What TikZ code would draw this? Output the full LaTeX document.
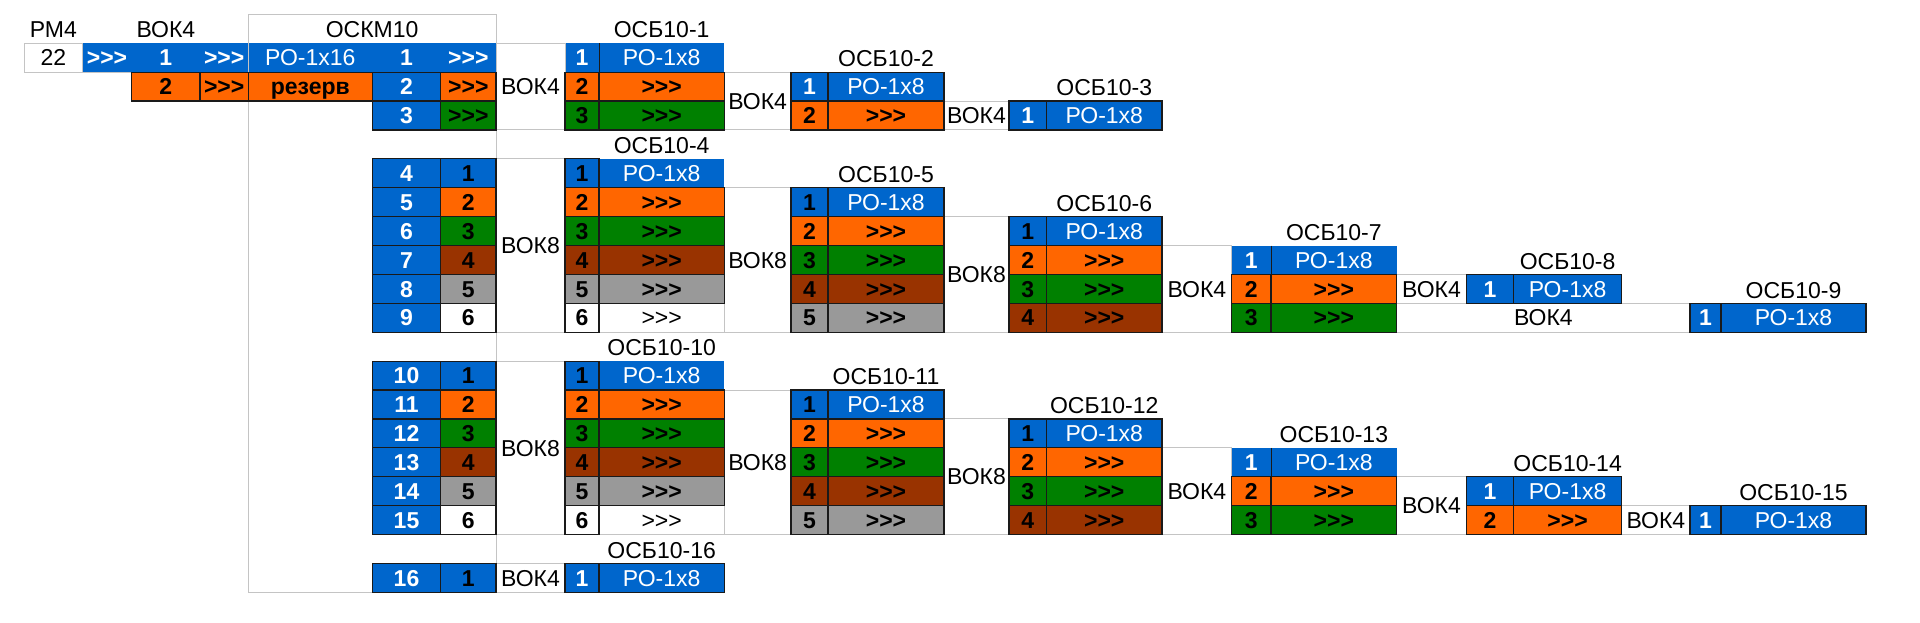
\documentclass[tikz,border=0pt]{standalone}
\usepackage{fontspec}
\setmainfont{Liberation Sans}
\definecolor{blu}{HTML}{0066CC}
\definecolor{org}{HTML}{FF6600}
\definecolor{grn}{HTML}{008000}
\definecolor{brn}{HTML}{993300}
\definecolor{gry}{HTML}{999999}
\definecolor{gridc}{HTML}{C4C4C4}
\definecolor{dk}{HTML}{1A1A1A}
\pgfdeclarelayer{bg}\pgfdeclarelayer{gl}
\pgfsetlayers{bg,gl,main}
\def\xs{{24.3,82.3,131.7,200,248.3,372.3,440.7,496,565,599,724.3,791,828,944,1009,1046.5,1162,1231.7,1271,1396.7,1466.3,1513.5,1621.7,1690,1721,1866}}
\newcounter{nn}
\newcommand\gts{>\kern0pt>\kern0pt>}
\tikzset{
  t/.style={font=\fontsize{11.5}{13}\selectfont, text height=8.2pt, text depth=0pt, inner sep=0pt},
  kr/.style={t},
  wr/.style={t, text=white},
  kb/.style={t, font=\fontsize{11.5}{13}\selectfont\bfseries},
  wb/.style={t, text=white, font=\fontsize{11.5}{13}\selectfont\bfseries},
  dkb/.style={draw=dk, line width=0.6pt},
  grb/.style={draw=gridc, line width=0.5pt},
}
% cell: l, r, rowtop, rowbot, fill, border, textstyle, text
\newcommand\cel[8]{%
  \pgfmathsetmacro\xl{\xs[#1]}%
  \pgfmathsetmacro\xr{\xs[#2]}%
  \pgfmathsetmacro\yt{14.3+28.9*(#3)}%
  \pgfmathsetmacro\yb{14.3+28.9*(#4+1)}%
  \begin{pgfonlayer}{bg}\fill[#5] (\xl,\yt) rectangle (\xr,\yb);\end{pgfonlayer}%
  \draw[#6] (\xl,\yt) rectangle (\xr,\yb);%
  \stepcounter{nn}%
  \node[#7] (n\arabic{nn}) at ({(\xl+\xr)/2},{(\yt+\yb)/2}) {#8};%
}
% grey merged cell: l, r, rowtop, rowbot, text
\newcommand\vok[5]{%
  \pgfmathsetmacro\xl{\xs[#1]}%
  \pgfmathsetmacro\xr{\xs[#2]}%
  \pgfmathsetmacro\yt{14.3+28.9*(#3)}%
  \pgfmathsetmacro\yb{14.3+28.9*(#4+1)}%
  \begin{pgfonlayer}{gl}\draw[grb] (\xl,\yt) rectangle (\xr,\yb);\end{pgfonlayer}%
  \stepcounter{nn}%
  \node[kr] (n\arabic{nn}) at ({(\xl+\xr)/2},{(\yt+\yb)/2}) {#5};%
}
% title: l, r, row, text
\newcommand\ttl[4]{%
  \pgfmathsetmacro\xl{\xs[#1]}%
  \pgfmathsetmacro\xr{\xs[#2]}%
  \pgfmathsetmacro\yt{14.3+28.9*(#3)+15.45}%
  \stepcounter{nn}%
  \node[kr] (n\arabic{nn}) at ({(\xl+\xr)/2},\yt) {#4};%
}
% thin separator: x index, row
\newcommand\sepl[2]{%
  \pgfmathsetmacro\xl{\xs[#1]}%
  \pgfmathsetmacro\yt{14.3+28.9*(#2)}%
  \pgfmathsetmacro\yb{14.3+28.9*(#2+1)}%
  \draw[dk, line width=0.4pt] (\xl,\yt) -- (\xl,\yb);%
}
% section: base row, first number
\newcommand\osect[2]{%
  \ttl{9}{10}{#1}{ОСБ10-#2}
  \cel{5}{6}{#1+1}{#1+1}{blu}{dkb}{wb}{#2}
  \cel{6}{7}{#1+1}{#1+1}{blu}{dkb}{kb}{1}
  \cel{5}{6}{#1+2}{#1+2}{blu}{dkb}{wb}{\the\numexpr#2+1\relax}
  \cel{6}{7}{#1+2}{#1+2}{org}{dkb}{kb}{2}
  \cel{5}{6}{#1+3}{#1+3}{blu}{dkb}{wb}{\the\numexpr#2+2\relax}
  \cel{6}{7}{#1+3}{#1+3}{grn}{dkb}{kb}{3}
  \cel{5}{6}{#1+4}{#1+4}{blu}{dkb}{wb}{\the\numexpr#2+3\relax}
  \cel{6}{7}{#1+4}{#1+4}{brn}{dkb}{kb}{4}
  \cel{5}{6}{#1+5}{#1+5}{blu}{dkb}{wb}{\the\numexpr#2+4\relax}
  \cel{6}{7}{#1+5}{#1+5}{gry}{dkb}{kb}{5}
  \cel{5}{6}{#1+6}{#1+6}{blu}{dkb}{wb}{\the\numexpr#2+5\relax}
  \cel{6}{7}{#1+6}{#1+6}{white}{dkb}{kb}{6}
  \vok{7}{8}{#1+1}{#1+6}{ВОК8}
  \cel{9}{10}{#1+1}{#1+1}{blu}{draw=none}{wr}{РО-1x8}
  \cel{8}{9}{#1+1}{#1+1}{blu}{dkb}{kb}{1}
  \cel{8}{9}{#1+2}{#1+2}{org}{dkb}{kb}{2}
  \cel{9}{10}{#1+2}{#1+2}{org}{dkb}{kb}{\gts}
  \cel{8}{9}{#1+3}{#1+3}{grn}{dkb}{kb}{3}
  \cel{9}{10}{#1+3}{#1+3}{grn}{dkb}{kb}{\gts}
  \cel{8}{9}{#1+4}{#1+4}{brn}{dkb}{kb}{4}
  \cel{9}{10}{#1+4}{#1+4}{brn}{dkb}{kb}{\gts}
  \cel{8}{9}{#1+5}{#1+5}{gry}{dkb}{kb}{5}
  \cel{9}{10}{#1+5}{#1+5}{gry}{dkb}{kb}{\gts}
  \cel{8}{9}{#1+6}{#1+6}{white}{dkb}{kb}{6}
  \vok{9}{10}{#1+6}{#1+6}{\gts}
  \ttl{12}{13}{#1+1}{ОСБ10-\the\numexpr#2+1\relax}
  \vok{10}{11}{#1+2}{#1+6}{ВОК8}
  \cel{11}{12}{#1+2}{#1+2}{blu}{dkb}{kb}{1}
  \cel{12}{13}{#1+2}{#1+2}{blu}{dkb}{wr}{РО-1x8}
  \cel{11}{12}{#1+3}{#1+3}{org}{dkb}{kb}{2}
  \cel{12}{13}{#1+3}{#1+3}{org}{dkb}{kb}{\gts}
  \cel{11}{12}{#1+4}{#1+4}{grn}{dkb}{kb}{3}
  \cel{12}{13}{#1+4}{#1+4}{grn}{dkb}{kb}{\gts}
  \cel{11}{12}{#1+5}{#1+5}{brn}{dkb}{kb}{4}
  \cel{12}{13}{#1+5}{#1+5}{brn}{dkb}{kb}{\gts}
  \cel{11}{12}{#1+6}{#1+6}{gry}{dkb}{kb}{5}
  \cel{12}{13}{#1+6}{#1+6}{gry}{dkb}{kb}{\gts}
  \ttl{15}{16}{#1+2}{ОСБ10-\the\numexpr#2+2\relax}
  \vok{13}{14}{#1+3}{#1+6}{ВОК8}
  \cel{14}{15}{#1+3}{#1+3}{blu}{dkb}{kb}{1}
  \cel{15}{16}{#1+3}{#1+3}{blu}{dkb}{wr}{РО-1x8}
  \cel{14}{15}{#1+4}{#1+4}{org}{dkb}{kb}{2}
  \cel{15}{16}{#1+4}{#1+4}{org}{dkb}{kb}{\gts}
  \cel{14}{15}{#1+5}{#1+5}{grn}{dkb}{kb}{3}
  \cel{15}{16}{#1+5}{#1+5}{grn}{dkb}{kb}{\gts}
  \cel{14}{15}{#1+6}{#1+6}{brn}{dkb}{kb}{4}
  \cel{15}{16}{#1+6}{#1+6}{brn}{dkb}{kb}{\gts}
  \ttl{18}{19}{#1+3}{ОСБ10-\the\numexpr#2+3\relax}
  \vok{16}{17}{#1+4}{#1+6}{ВОК4}
  \cel{17}{18}{#1+4}{#1+4}{blu}{draw=none}{wb}{1}
  \cel{18}{19}{#1+4}{#1+4}{blu}{draw=none}{wr}{РО-1x8}
  \sepl{18}{#1+4}
  \cel{17}{18}{#1+5}{#1+5}{org}{dkb}{kb}{2}
  \cel{18}{19}{#1+5}{#1+5}{org}{dkb}{kb}{\gts}
  \cel{17}{18}{#1+6}{#1+6}{grn}{dkb}{kb}{3}
  \cel{18}{19}{#1+6}{#1+6}{grn}{dkb}{kb}{\gts}
}
\begin{document}
\begin{tikzpicture}[x=0.5pt,y=-0.5pt]
\useasboundingbox (0,0) rectangle (1920,622);
% OCKM10 frame
\begin{pgfonlayer}{gl}
\draw[grb] (248.3,72.1) -- (248.3,14.3) -- (496,14.3) -- (496,592.3) -- (248.3,592.3) -- (248.3,72.1);
\draw[grb] (82.3,72.2) -- (131.7,72.2);
\end{pgfonlayer}
% row 0
\ttl{0}{1}{0}{РМ4}
\ttl{2}{3}{0}{ВОК4}
\ttl{4}{7}{0}{ОСКМ10}
\ttl{9}{10}{0}{ОСБ10-1}
% row 1
\vok{0}{1}{1}{1}{22}
\cel{1}{2}{1}{1}{blu}{draw=none}{wb}{\gts}
\cel{2}{3}{1}{1}{blu}{draw=none}{wb}{1}
\cel{3}{4}{1}{1}{blu}{draw=none}{wb}{\gts}
\cel{4}{5}{1}{1}{blu}{draw=none}{wr}{РО-1x16}
\cel{5}{6}{1}{1}{blu}{draw=none}{wb}{1}
\cel{6}{7}{1}{1}{blu}{draw=none}{wb}{\gts}
\vok{7}{8}{1}{3}{ВОК4}
\cel{8}{9}{1}{1}{blu}{draw=none}{wb}{1}
\cel{9}{10}{1}{1}{blu}{draw=none}{wr}{РО-1x8}
\sepl{9}{1}
\ttl{12}{13}{1}{ОСБ10-2}
% row 2
\cel{2}{3}{2}{2}{org}{dkb}{kb}{2}
\cel{3}{4}{2}{2}{org}{dkb}{kb}{\gts}
\cel{4}{5}{2}{2}{org}{dkb}{kb}{резерв}
\cel{5}{6}{2}{2}{blu}{dkb}{wb}{2}
\cel{6}{7}{2}{2}{org}{dkb}{kb}{\gts}
\cel{8}{9}{2}{2}{org}{dkb}{kb}{2}
\cel{9}{10}{2}{2}{org}{dkb}{kb}{\gts}
\vok{10}{11}{2}{3}{ВОК4}
\cel{11}{12}{2}{2}{blu}{dkb}{wb}{1}
\cel{12}{13}{2}{2}{blu}{dkb}{wr}{РО-1x8}
\ttl{15}{16}{2}{ОСБ10-3}
% row 3
\cel{5}{6}{3}{3}{blu}{dkb}{wb}{3}
\cel{6}{7}{3}{3}{grn}{dkb}{kb}{\gts}
\cel{8}{9}{3}{3}{grn}{dkb}{kb}{3}
\cel{9}{10}{3}{3}{grn}{dkb}{kb}{\gts}
\cel{11}{12}{3}{3}{org}{dkb}{kb}{2}
\cel{12}{13}{3}{3}{org}{dkb}{kb}{\gts}
\vok{13}{14}{3}{3}{ВОК4}
\cel{14}{15}{3}{3}{blu}{dkb}{wb}{1}
\cel{15}{16}{3}{3}{blu}{dkb}{wr}{РО-1x8}
% section 2
\osect{4}{4}
\ttl{21}{22}{8}{ОСБ10-8}
\vok{19}{20}{9}{9}{ВОК4}
\cel{20}{21}{9}{9}{blu}{dkb}{wb}{1}
\cel{21}{22}{9}{9}{blu}{dkb}{wr}{РО-1x8}
\ttl{24}{25}{9}{ОСБ10-9}
\vok{19}{23}{10}{10}{ВОК4}
\cel{23}{24}{10}{10}{blu}{dkb}{wb}{1}
\cel{24}{25}{10}{10}{blu}{dkb}{wr}{РО-1x8}
% section 3
\osect{11}{10}
\ttl{21}{22}{15}{ОСБ10-14}
\vok{19}{20}{16}{17}{ВОК4}
\cel{20}{21}{16}{16}{blu}{dkb}{wb}{1}
\cel{21}{22}{16}{16}{blu}{dkb}{wr}{РО-1x8}
\cel{20}{21}{17}{17}{org}{dkb}{kb}{2}
\cel{21}{22}{17}{17}{org}{dkb}{kb}{\gts}
\ttl{24}{25}{16}{ОСБ10-15}
\vok{22}{23}{17}{17}{ВОК4}
\cel{23}{24}{17}{17}{blu}{dkb}{wb}{1}
\cel{24}{25}{17}{17}{blu}{dkb}{wr}{РО-1x8}
% rows 18-19
\ttl{9}{10}{18}{ОСБ10-16}
\cel{5}{6}{19}{19}{blu}{dkb}{wb}{16}
\cel{6}{7}{19}{19}{blu}{dkb}{kb}{1}
\vok{7}{8}{19}{19}{ВОК4}
\cel{8}{9}{19}{19}{blu}{dkb}{wb}{1}
\cel{9}{10}{19}{19}{blu}{dkb}{wr}{РО-1x8}
\end{tikzpicture}
\end{document}
